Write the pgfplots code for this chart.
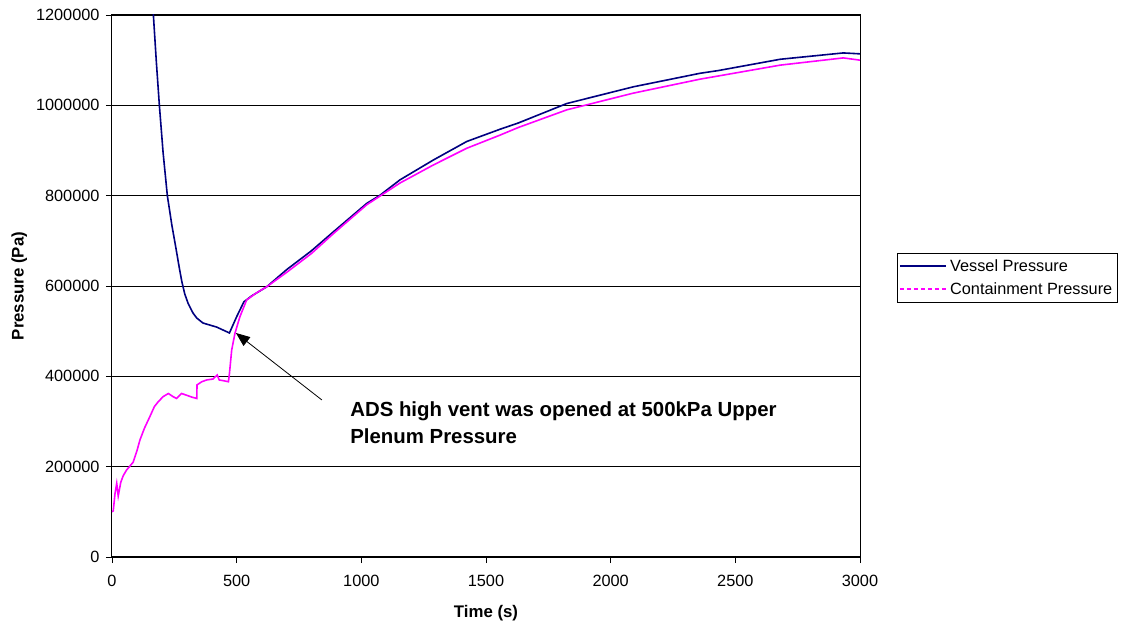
\documentclass[border=0pt]{standalone}
\usepackage{fontspec}
\setmainfont{Liberation Sans}
\usepackage{pgfplots}
\pgfplotsset{compat=1.18}
\usetikzlibrary{arrows.meta}
\definecolor{vessel}{RGB}{0,0,128}
\definecolor{contain}{RGB}{255,0,255}
\begin{document}
\begin{tikzpicture}
\begin{axis}[
  scale only axis, width=748pt, height=542pt,
  xmin=0, xmax=3000, ymin=0, ymax=1200000,
  xtick={0,500,...,3000}, ytick={0,200000,...,1200000},
  scaled y ticks=false, scaled x ticks=false,
  /pgf/number format/fixed,
  /pgf/number format/precision=0,
  /pgf/number format/1000 sep={},
  /pgf/number format/assume math mode=true,
  ticklabel style={font=\fontsize{16.3}{19}\selectfont},
  xticklabel style={yshift=-9pt},
  yticklabel style={xshift=-3pt},
  tick align=outside, tick pos=left, major tick length=6pt,
  tick style={black, line width=0.8pt},
  ymajorgrids, grid style={black, line width=0.8pt},
  axis line style={black, line width=1pt},
  xlabel={Time (s)}, ylabel={Pressure (Pa)},
  label style={font=\fontsize{16.8}{19}\selectfont\bfseries},
  xlabel style={yshift=-11pt},
  ylabel style={yshift=2pt},
  legend style={at={(axis description cs:1.049,0.561)}, anchor=north west,
    draw=black, line width=0.8pt, font=\fontsize{16.3}{19}\selectfont,
    inner xsep=2pt, inner ysep=4pt, row sep=6pt,
    nodes={inner xsep=3.5pt}},
  legend cell align=left,
  legend image code/.code={\draw[#1] (0pt,0pt) -- (46pt,0pt);},
]
\addplot[color=vessel, line width=1.6pt] coordinates {
(155,1290000) (166,1200000) (178,1095000) (190,1000000) (205,895000)
(222,800000) (240,735000) (257,682000) (270,640000) (280,610000) (292,582000)
(305,562000) (325,540000) (340,529000) (365,518000) (420,509000) (471,496000)
(500,532000) (529,565000) (560,578000) (620,598000) (700,636000)
(800,678000) (888,720000) (1022,783000) (1075,801000) (1155,835000)
(1289,879000) (1423,920000) (1556,947000) (1630,961000) (1824,1004000)
(2091,1041000) (2359,1071000) (2432,1077000) (2680,1102000) (2933,1116000)
(3000,1114000)
};
\addlegendentry{Vessel Pressure}
\addplot[color=contain, line width=1.6pt, forget plot] coordinates {
(0,100000) (5,102000) (12,140000) (19,163000) (25,135000) (35,165000)
(45,180000) (59,193000) (70,200000) (85,210000) (100,235000) (112,259000)
(130,285000) (152,311000) (170,333000) (186,344000) (205,355000) (226,362000)
(245,355000) (259,351000) (279,362000) (300,358000) (320,354000) (340,351000)
(341,381000) (360,388000) (380,392000) (405,394000) (422,403000) (430,392000)
(450,390000) (467,388000) (471,406000) (480,458000) (493,495000) (513,532000)
(540,569000) (580,585000) (620,598000) (700,630000) (800,672000) (888,716000)
(1022,780000) (1155,828000) (1289,868000) (1423,905000) (1556,934000)
(1630,951000) (1824,990000) (2091,1027000) (2359,1058000) (2432,1065000)
(2680,1089000) (2933,1105000) (3000,1100000)
};
\addlegendimage{color=contain, line width=1.6pt, dash pattern=on 4pt off 3pt}
\addlegendentry{Containment Pressure}
\draw[black, line width=0.8pt, -{Triangle[length=14pt,width=11pt]}] (axis cs:842,347600) -- (axis cs:497,496000);
\node[anchor=north west, align=left, inner sep=0pt,
  font=\fontsize{20.4}{27}\selectfont\bfseries] at (axis cs:955,345000)
  {ADS high vent was opened at 500kPa Upper\\Plenum Pressure};
\end{axis}
\path (current axis.south west) ++(-112pt,-67pt) rectangle ++(1128pt,624pt);
\end{tikzpicture}
\end{document}
